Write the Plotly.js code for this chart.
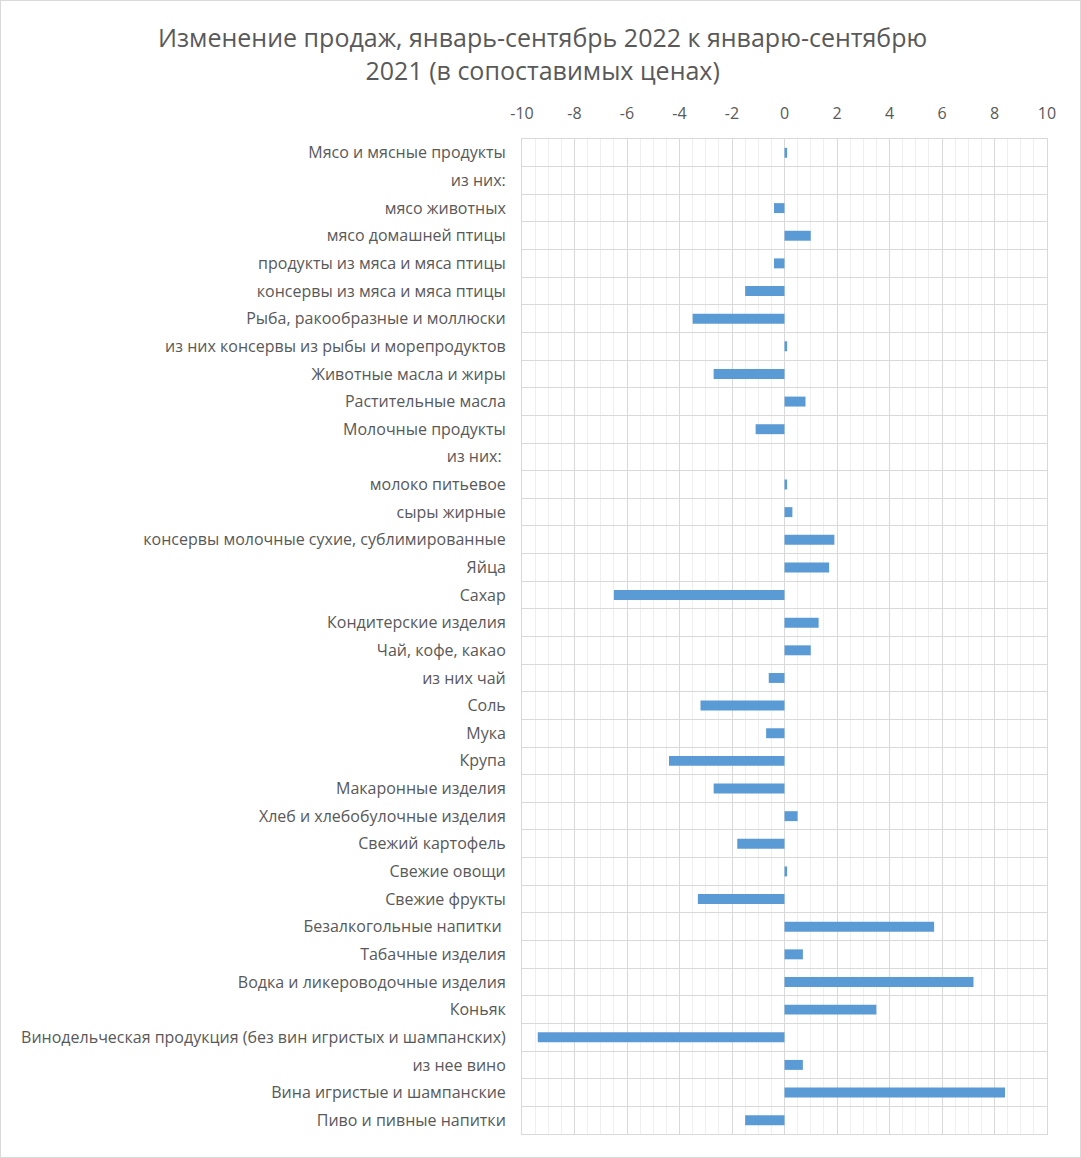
<!DOCTYPE html>
<html>
<head>
<meta charset="utf-8">
<script src="https://cdn.plot.ly/plotly-3.0.1.min.js"></script>
<style>
html,body{margin:0;padding:0;background:#fff;}
#chart{width:1079px;height:1156px;border:1px solid #d9d9d9;}
</style>
</head>
<body>
<div id="chart"></div>
<script>
const categories = [
  "Мясо и мясные продукты",
  "из них:",
  "мясо животных",
  "мясо домашней птицы",
  "продукты из мяса и мяса птицы",
  "консервы из мяса и мяса птицы",
  "Рыба, ракообразные и моллюски",
  "из них консервы из рыбы и морепродуктов",
  "Животные масла и жиры",
  "Растительные масла",
  "Молочные продукты",
  "из них: ",
  "молоко питьевое",
  "сыры жирные",
  "консервы молочные сухие, сублимированные",
  "Яйца",
  "Сахар",
  "Кондитерские изделия",
  "Чай, кофе, какао",
  "из них чай",
  "Соль",
  "Мука",
  "Крупа",
  "Макаронные изделия",
  "Хлеб и хлебобулочные изделия",
  "Свежий картофель",
  "Свежие овощи",
  "Свежие фрукты",
  "Безалкогольные напитки ",
  "Табачные изделия",
  "Водка и ликероводочные изделия",
  "Коньяк",
  "Винодельческая продукция (без вин игристых и шампанских)",
  "из нее вино",
  "Вина игристые и шампанские",
  "Пиво и пивные напитки"
];
const changes = [
  0.1, null, -0.4, 1.0, -0.4, -1.5, -3.5, 0.1, -2.7, 0.8, -1.1,
  null, 0.1, 0.3, 1.9, 1.7, -6.5, 1.3, 1.0, -0.6, -3.2, -0.7, -4.4,
  -2.7, 0.5, -1.8, 0.1, -3.3, 5.7, 0.7, 7.2, 3.5, -9.4, 0.7, 8.4, -1.5
];
const xTickVals = [-10, -8, -6, -4, -2, 0, 2, 4, 6, 8, 10];

const trace = {
  type: 'bar',
  orientation: 'h',
  x: changes,
  y: categories,
  marker: {color: '#5B9BD5'},
  hoverinfo: 'x+y'
};

const layout = {
  width: 1079,
  height: 1156,
  paper_bgcolor: '#ffffff',
  plot_bgcolor: '#ffffff',
  margin: {l: 521, r: 33, t: 138, b: 23},
  bargap: 0.64,
  showlegend: false,
  font: {family: '"Open Sans", sans-serif', color: '#595959'},
  title: {
    text: 'Изменение продаж, январь-сентябрь 2022 к январю-сентябрю<br>2021 (в сопоставимых ценах)',
    font: {family: '"Open Sans", sans-serif', size: 25, color: '#595959'},
    x: 0.502,
    xanchor: 'center',
    yref: 'container',
    y: 0.96,
    yanchor: 'top'
  },
  xaxis: {
    side: 'top',
    range: [-10, 10],
    tickvals: xTickVals,
    ticktext: xTickVals.map(String),
    showgrid: true,
    gridcolor: '#d9d9d9',
    gridwidth: 1,
    zeroline: false,
    showline: true,
    linecolor: '#d9d9d9',
    mirror: true,
    ticks: '',
    ticklabelstandoff: 13,
    tickfont: {size: 16, color: '#595959'},
    minor: {dtick: 0.5, tick0: 0, showgrid: true, gridcolor: '#efefef', gridwidth: 1}
  },
  yaxis: {
    type: 'category',
    autorange: 'reversed',
    tickson: 'boundaries',
    showgrid: true,
    gridcolor: '#d9d9d9',
    gridwidth: 1,
    showline: true,
    linecolor: '#d9d9d9',
    mirror: true,
    ticks: '',
    ticklabelstandoff: 12,
    tickfont: {size: 16, color: '#595959'}
  }
};

Plotly.newPlot('chart', [trace], layout, {displayModeBar: false, staticPlot: true});
</script>
</body>
</html>
